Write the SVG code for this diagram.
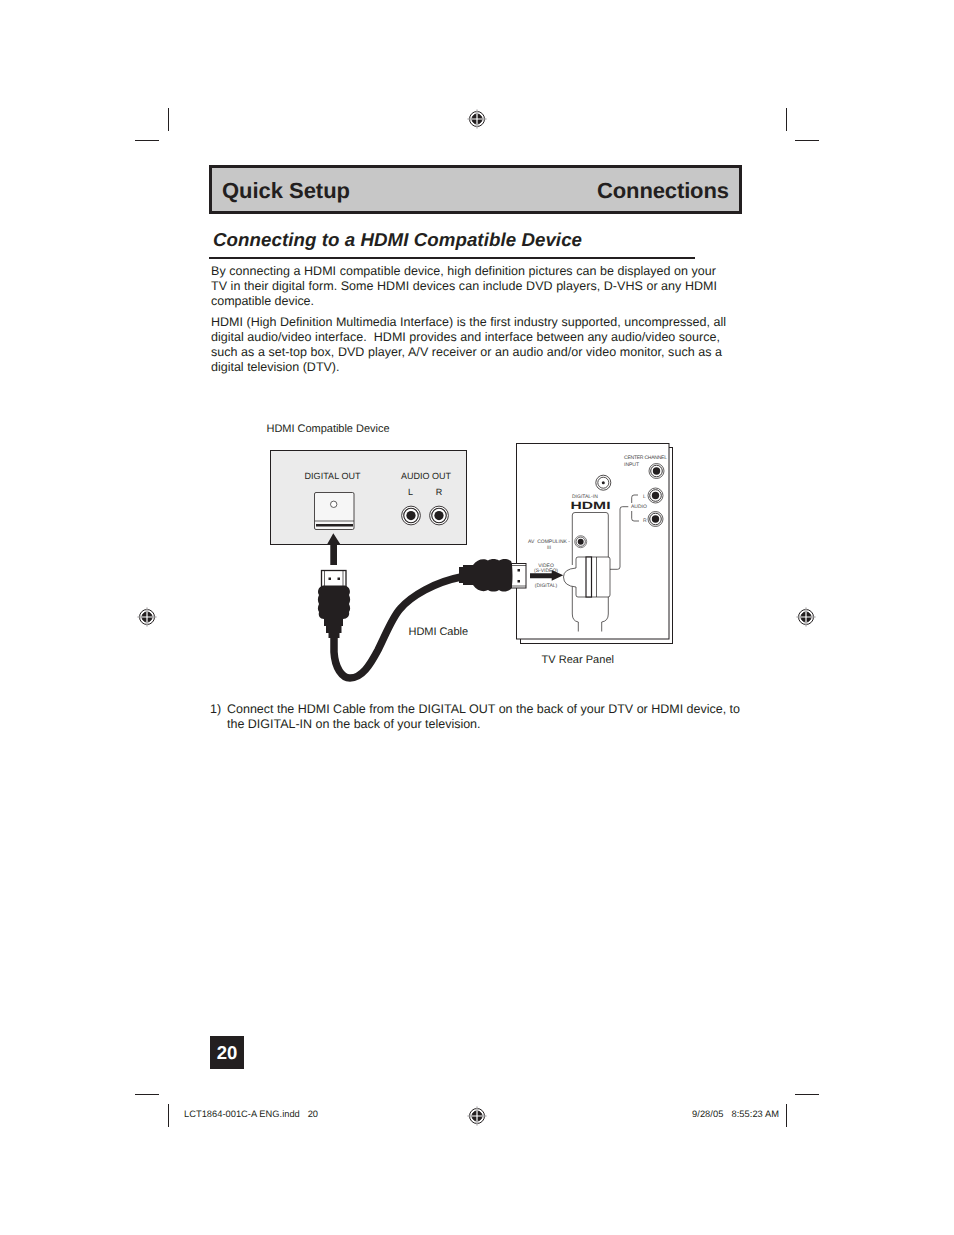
<svg xmlns="http://www.w3.org/2000/svg" width="954" height="1235" viewBox="0 0 954 1235">
<style>
text{font-family:"Liberation Sans",Arial,sans-serif;fill:#231f20;white-space:pre;text-rendering:geometricPrecision}
.b{font-size:12.500px}
.d{font-size:11px}
.s{font-size:9px}
.t{font-size:5px;fill:#444}
.ln{stroke:#231f20;stroke-width:1;fill:none}
.thin{stroke:#231f20;stroke-width:.7;fill:none}
.k{fill:#231f20}
</style>
<defs>
<g id="reg"><circle r="7.500" fill="#fff" stroke="#231f20" stroke-width="1"/><circle r="5" class="k"/><path d="M-9.500 0H9.500M0-9.500V9.500" stroke="#fff" stroke-width="1.200"/><path d="M-9.500 0H-5M5 0H9.500M0-9.500V-5M0 5V9.500" stroke="#231f20" stroke-width=".5"/></g>
<g id="jack"><circle r="7.500" fill="#fff" stroke="#231f20" stroke-width=".7"/><circle r="5.800" fill="#fff" stroke="#231f20" stroke-width=".9"/><circle r="3.700" class="k"/></g>
</defs>
<rect width="954" height="1235" fill="#fff"/>
<g id="marks" class="ln">
<path d="M168.500 108V131M135 140.500H159M786.500 108V131M795 140.500H819M135 1094.500H159M168.500 1104V1127M786.500 1104V1127M795 1094.500H819"/>
<use href="#reg" x="477" y="119"/><use href="#reg" x="147" y="617"/><use href="#reg" x="806" y="617"/><use href="#reg" x="477" y="1116"/>
</g>
<g id="header">
<rect x="210.500" y="166.500" width="530" height="46" fill="#c7c7c7" stroke="#231f20" stroke-width="3"/>
<text x="222" y="198" font-size="22" font-weight="700" textLength="128">Quick Setup</text>
<text x="597" y="198" font-size="22" font-weight="700" textLength="132">Connections</text>
</g>
<g id="title">
<text x="213" y="246" font-size="18.700" font-weight="700" font-style="italic" textLength="369">Connecting to a HDMI Compatible Device</text>
<rect x="209" y="257" width="486" height="2" class="k"/>
</g>
<g id="body">
<text class="b" x="211" y="275" textLength="505">By connecting a HDMI compatible device, high definition pictures can be displayed on your</text>
<text class="b" x="211" y="290" textLength="506">TV in their digital form. Some HDMI devices can include DVD players, D-VHS or any HDMI</text>
<text class="b" x="211" y="305" textLength="103">compatible device.</text>
<text class="b" x="211" y="326" textLength="515">HDMI (High Definition Multimedia Interface) is the first industry supported, uncompressed, all</text>
<text class="b" x="211" y="341" textLength="509">digital audio/video interface.  HDMI provides and interface between any audio/video source,</text>
<text class="b" x="211" y="356" textLength="511">such as a set-top box, DVD player, A/V receiver or an audio and/or video monitor, such as a</text>
<text class="b" x="211" y="371" textLength="128.500">digital television (DTV).</text>
</g>
<g id="device">
<text class="d" x="266.500" y="432" textLength="123">HDMI Compatible Device</text>
<rect x="270.500" y="450.500" width="196" height="94" fill="#ebebeb" stroke="#231f20"/>
<text class="s" x="304.500" y="479" textLength="56">DIGITAL OUT</text>
<text class="s" x="401" y="479" textLength="50">AUDIO OUT</text>
<text class="s" x="410.500" y="495" text-anchor="middle">L</text>
<text class="s" x="439" y="495" text-anchor="middle">R</text>
<rect x="314.500" y="492.500" width="39.500" height="37" rx="1.500" fill="#f6f6f6" stroke="#231f20" stroke-width=".8"/>
<circle cx="333.700" cy="504.300" r="3.200" fill="#fff" stroke="#231f20" stroke-width=".7"/>
<path d="M315 521H354" class="thin"/>
<rect x="316" y="524" width="37" height="2.500" class="k"/>
<use href="#jack" transform="translate(411 515.500) scale(1.250)"/><use href="#jack" transform="translate(439 515.500) scale(1.250)"/>
</g>
<g id="tv">
<rect x="520.500" y="447.500" width="152" height="196" fill="#fff" stroke="#231f20"/>
<rect x="516.500" y="443.500" width="152.500" height="195.500" fill="#fff" stroke="#231f20"/>
<text class="t" x="624" y="459" textLength="43">CENTER CHANNEL</text>
<text class="t" x="624" y="466">INPUT</text>
<use href="#jack" x="656.500" y="471"/><use href="#jack" x="655.500" y="495.500"/><use href="#jack" x="655.500" y="519"/>
<circle cx="603.300" cy="482.700" r="7.500" fill="#fff" stroke="#231f20" stroke-width=".8"/><circle cx="603.300" cy="482.700" r="5.500" fill="#fff" stroke="#231f20" stroke-width=".8"/><circle cx="603.300" cy="482.700" r="1.500" class="k"/>
<text class="t" x="572" y="497.500">DIGITAL-IN</text>
<text x="570.500" y="509" style="font-size:10.500px;font-weight:700;fill:#231f20" textLength="40" lengthAdjust="spacingAndGlyphs">HDMI</text>
<text class="t" x="631" y="508">AUDIO</text>
<text class="t" x="643" y="497.500">L</text><text class="t" x="643" y="521.500">R</text>
<path class="thin" d="M638 495H634Q631.700 495 631.700 497.500V503M631.700 511V518.500Q631.700 521 634 521H639M628.300 506.700H622.500Q620 506.700 620 509V567Q620 569.300 617.500 569.300H610"/>
<path class="thin" d="M572.300 565V515Q572.300 512.500 575 512.500H606Q608.300 512.500 608.300 515V562M572.300 586V614Q572.300 621 578.300 622V631.500M608.300 590V614Q608.300 621 601.700 622V631.500"/>
<text class="t" x="549" y="543" text-anchor="middle">AV  COMPULINK -</text>
<text class="t" x="549" y="549" text-anchor="middle">III</text>
<use href="#jack" transform="translate(580.700 541.700) scale(.8)"/>
<path d="M578 557H608Q610 557 610 559V595Q610 597 608 597H578Q576 597 576 595V587Q563.500 586 563.500 577Q563.500 569 576 568V559Q576 557 578 557Z" fill="#fff" stroke="#231f20" stroke-width=".7"/>
<rect x="586" y="557" width="5.500" height="40" fill="#fff" stroke="#231f20" stroke-width="1.200"/>
<path d="M596.500 557V597" class="thin"/>
<text class="t" x="546" y="567" text-anchor="middle">VIDEO</text>
<text class="t" x="546" y="572" text-anchor="middle">(S-VIDEO)</text>
<text class="t" x="546" y="586.500" text-anchor="middle">(DIGITAL)</text>
<path class="k" d="M530 573.300H551.700V570L563.300 575.300L551.700 580.700V578.300H530Z"/>
</g>
<g id="connectors">
<g id="arrow"><path class="k" d="M333.300 533.300L340.500 544.500H337V565H330.300V544.500H327Z"/></g>
<path id="cable" d="M334 636V652C335 668 342 678 350 678C362 678 370 665 378 650C386 634 392 618 400 609C411 596 435 582 461 577" fill="none" stroke="#231f20" stroke-width="7.500"/>
<g id="plugA">
<rect x="321.500" y="570.500" width="24.500" height="16.500" fill="#fff" stroke="#231f20" stroke-width="1.300"/>
<path d="M324.500 571V586.500M343 571V586.500" class="thin"/>
<rect x="328.500" y="577.500" width="2.500" height="2.500" class="k"/><rect x="337.500" y="577.500" width="2.500" height="2.500" class="k"/>
<path class="k" d="M323 585.500H345C350 587 351 592 349 595C350.500 598 350.500 601 349 604C350.500 607 350.500 610 349 612C350 616 347 619 343 619V626H341.500V633H339.500V638H328.500V633H326V626H324V619C320 619 318 616 319 612C317.500 610 317.500 607 319 604C317.500 601 317.500 598 319 595C317 592 318 587 323 585.500Z"/>
</g>
<g id="plugB">
<rect x="511.500" y="563.500" width="14.500" height="24.500" fill="#fff" stroke="#231f20"/>
<path d="M511.500 565.500H526M511.500 586H526" class="thin"/>
<rect x="517.500" y="569" width="2.500" height="2.500" class="k"/><rect x="517.500" y="580" width="2.500" height="2.500" class="k"/>
<path class="k" d="M459 567H463V565H473C477 559 484 558 488 560.500C491 558.500 496 558.500 499 560.500C502 558.500 507 558 511 561C513 564 513 587 511 589C507 592.500 502 592 499 590C496 592 491 592 488 590C484 592.500 477 591 473 585H463V583H459Z"/>
</g>
</g>
<g id="labels">
<text class="d" x="408.500" y="635" textLength="59.500">HDMI Cable</text>
<text class="d" x="541.500" y="663" textLength="72.500">TV Rear Panel</text>
</g>
<g id="step">
<text class="b" x="210" y="713">1)</text>
<text class="b" x="227" y="713" textLength="513">Connect the HDMI Cable from the DIGITAL OUT on the back of your DTV or HDMI device, to</text>
<text class="b" x="227" y="728" textLength="253.500">the DIGITAL-IN on the back of your television.</text>
</g>
<g id="page">
<rect x="210" y="1036" width="34" height="33" class="k"/>
<text x="227" y="1058.500" text-anchor="middle" font-size="18.500" font-weight="700" style="fill:#fff">20</text>
<text x="184" y="1117" style="font-size:9.300px" textLength="134">LCT1864-001C-A ENG.indd   20</text>
<text x="692" y="1117" style="font-size:9.300px" textLength="87">9/28/05   8:55:23 AM</text>
</g>
</svg>
